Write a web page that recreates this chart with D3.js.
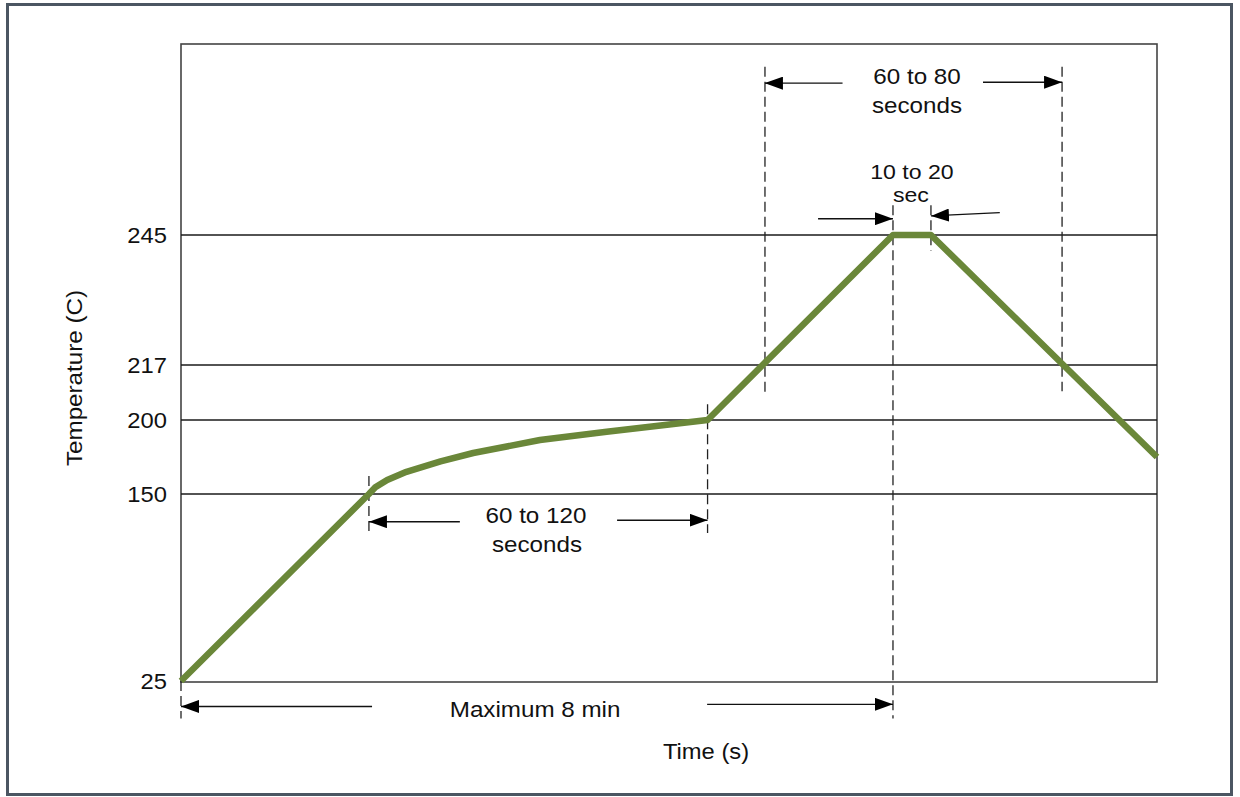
<!DOCTYPE html>
<html lang="en">
    <head>
        <meta charset="utf-8">
        <title>Reflow profile</title>
        <script type="text/javascript" src="https://cdn.jsdelivr.net/npm/d3@7/dist/d3.min.js"></script>
        <style type="text/css">
            body { margin: 0; background: #fff; }
            text { font-family: "Liberation Sans", Arial, sans-serif; fill: #111; }
        </style>
    </head>

    <body>
        <script type="text/javascript">
            // Temperature ticks (C)
            var tempTicks = [25, 150, 200, 217, 245];

            // Reflow profile (time in s, temp in C)
            var profileTime = [0, 126.7, 131, 139, 152, 175, 197, 242, 287, 332, 355, 480, 505.6, 658];
            var profileTemp = [25, 150, 154.5, 159.5, 165, 172, 177.7, 186.5, 192, 197.3, 200, 245, 245, 175];

            // Dashed marker lines: time, temp from, temp to
            var markerTime = [0, 126.7, 355, 393.7, 480, 505.6, 594];
            var markerTop = [25, 162.2, 204.9, 281.1, 251.4, 251.4, 281.1];
            var markerBottom = [0, 123.9, 123.9, 208.7, 0, 241.6, 208.9];

            // Arrows: start (time, temp) -> tip (time, temp)
            var arrowT0 = [446, 540.7, 429.5, 552, 188, 294, 128.8, 354.7];
            var arrowV0 = [277.6, 277.8, 248.5, 249.8, 131.5, 132.5, 8, 9.4];
            var arrowT1 = [393.7, 594, 480, 505.6, 126.7, 355, 0, 480];
            var arrowV1 = [277.6, 277.8, 248.5, 249.1, 131.5, 132.5, 8, 9.4];

            // Annotation labels (centre time, baseline temp, font size)
            var noteText = ["60 to 80", "seconds", "10 to 20", "sec", "60 to 120", "seconds", "Maximum 8 min"];
            var noteTime = [496.2, 496.2, 492.8, 492.1, 239.3, 240, 238.7];
            var noteTemp = [277.4, 271.2, 257.0, 252.1, 130.6, 111.2, 0.9];
            var noteSize = [22, 22, 21, 21, 22, 22, 22];

            var w = 1240;
            var h = 797;
            var plotLeft = 181, plotRight = 1157, plotTop = 44, plotBottom = 682;

            var svg = d3.select("body")
                    .append("svg")
                    .attr("width", w)
                    .attr("height", h);

            // outer frame
            svg.append("rect")
                .attr("x", 7.5).attr("y", 4.5)
                .attr("width", 1224).attr("height", 790)
                .attr("fill", "#fff")
                .attr("stroke", "#4b5662")
                .attr("stroke-width", 3);

            var x = d3.scaleLinear()
                        .domain([0, 658])
                        .range([plotLeft, plotRight]);
            // the temperature axis is not linear in the picture
            var y = d3.scaleLinear()
                        .domain([25, 150, 200, 217, 245, 286])
                        .range([681, 494, 420, 365, 235, plotTop]);

            // plot box
            svg.append("rect")
                .attr("x", plotLeft).attr("y", plotTop)
                .attr("width", plotRight - plotLeft).attr("height", plotBottom - plotTop)
                .attr("fill", "none")
                .attr("stroke", "#444")
                .attr("stroke-width", 1.6);

            // grid lines
            svg.selectAll("line.grid")
                .data(tempTicks.slice(1))
                .enter()
                .append("line")
                .attr("class", "grid")
                .attr("x1", plotLeft).attr("x2", plotRight)
                .attr("y1", function(d) { return y(d); })
                .attr("y2", function(d) { return y(d); })
                .attr("stroke", "#1a1a1a")
                .attr("stroke-width", 1.3);

            var yAxis = d3.axisLeft(y)
                            .tickValues(tempTicks)
                            .tickSize(0)
                            .tickPadding(13);
            var gy = svg.append("g")
                .attr("transform", "translate(" + plotLeft + ",0)")
                .call(yAxis);
            gy.select(".domain").remove();
            gy.selectAll("text")
                .attr("font-size", "22px")
                .attr("font-family", "Liberation Sans, Arial, sans-serif")
                .attr("fill", "#111")
                .attr("transform", "scale(1.08,1)");

            // dashed markers
            svg.selectAll("line.marker")
                .data(markerTime)
                .enter()
                .append("line")
                .attr("class", "marker")
                .attr("x1", function(d) { return x(d); })
                .attr("x2", function(d) { return x(d); })
                .attr("y1", function(d, i) { return y(markerTop[i]); })
                .attr("y2", function(d, i) { return y(markerBottom[i]); })
                .attr("stroke", "#222")
                .attr("stroke-width", 1.3)
                .attr("stroke-dasharray", "10,5");

            // arrow head
            svg.append("defs").append("marker")
                .attr("id", "head")
                .attr("markerUnits", "userSpaceOnUse")
                .attr("markerWidth", 18).attr("markerHeight", 13)
                .attr("refX", 18).attr("refY", 6.5)
                .attr("orient", "auto")
                .append("path")
                .attr("d", "M0,0L18,6.5L0,13Z")
                .attr("fill", "#000");

            svg.selectAll("line.arrow")
                .data(arrowT0)
                .enter()
                .append("line")
                .attr("class", "arrow")
                .attr("x1", function(d) { return x(d); })
                .attr("y1", function(d, i) { return y(arrowV0[i]); })
                .attr("x2", function(d, i) { return x(arrowT1[i]); })
                .attr("y2", function(d, i) { return y(arrowV1[i]); })
                .attr("stroke", "#111")
                .attr("stroke-width", 1.4)
                .attr("marker-end", "url(#head)");

            // profile curve
            var line = d3.line()
                        .x(function(d) { return x(d[0]); })
                        .y(function(d) { return y(d[1]); });
            svg.append("path")
                .datum(d3.zip(profileTime, profileTemp))
                .attr("d", line)
                .attr("fill", "none")
                .attr("stroke", "#6a8739")
                .attr("stroke-width", 6.5)
                .attr("stroke-linejoin", "round");

            // annotation text
            svg.selectAll("text.note")
                .data(noteText)
                .enter()
                .append("text")
                .attr("class", "note")
                .attr("text-anchor", "middle")
                .attr("font-size", function(d, i) { return noteSize[i] + "px"; })
                .attr("transform", function(d, i) {
                    return "translate(" + x(noteTime[i]) + "," + y(noteTemp[i]) + ") scale(1.1,1)";
                })
                .text(function(d) { return d; });

            // axis titles
            svg.append("text")
                .attr("text-anchor", "middle")
                .attr("font-size", "22px")
                .attr("transform", "translate(706,759) scale(1.08,1)")
                .text("Time (s)");

            svg.append("text")
                .attr("text-anchor", "middle")
                .attr("font-size", "22px")
                .attr("transform", "translate(82,378) rotate(-90) scale(1.1,1)")
                .text("Temperature (C)");
        </script>
    </body>
</html>
